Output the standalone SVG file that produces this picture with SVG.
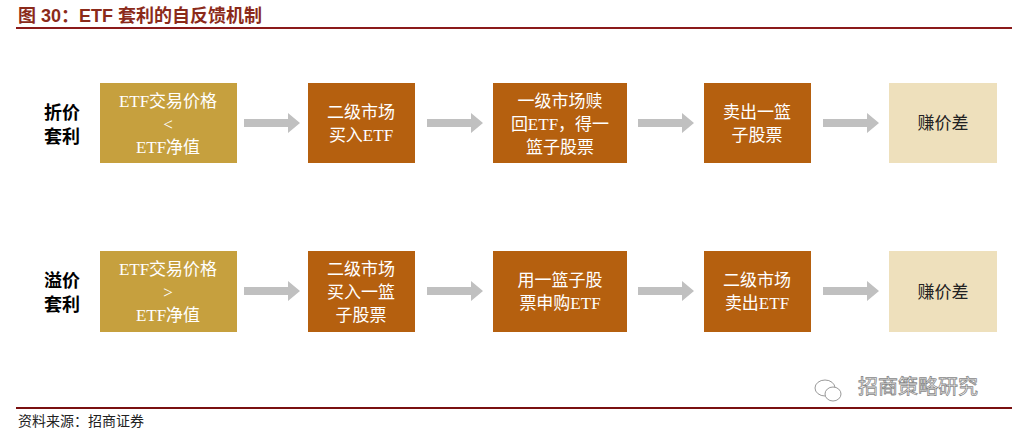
<svg xmlns="http://www.w3.org/2000/svg" width="1028" height="436" viewBox="0 0 1028 436">
<style>
text{font-family:"Liberation Serif","Noto Sans CJK SC",serif;font-size:17px;text-anchor:middle;fill:#fff}
.g{fill:#C6A03E}.o{fill:#B5600F}.b{fill:#EEE0BC}
.lab{fill:#000;font-weight:bold;font-size:18px}
.dk{fill:#222}
</style>
<defs><polygon id="ar" points="0,-4 44,-4 44,-10 56,0 44,10 44,4 0,4" fill="#C0C0C0"/></defs>
<rect width="1028" height="436" fill="#fff"/>
<text x="18" y="22" style="text-anchor:start;font-family:'Liberation Sans','Noto Sans CJK SC',sans-serif;font-weight:bold;font-size:18px;fill:#8B2A1A">图 30：ETF 套利的自反馈机制</text>
<rect x="16" y="27" width="996" height="2" fill="#8B1A1A"/>
<rect x="16" y="407" width="996" height="2" fill="#7A1010"/>
<text x="18" y="426" style="text-anchor:start;font-family:'Liberation Sans','Noto Sans CJK SC',sans-serif;font-size:14px;fill:#222">资料来源：招商证券</text>
<text x="918" y="394" style="font-family:'Noto Sans CJK SC',sans-serif;font-size:20px;fill:#fff;stroke:#888;stroke-width:0.8">招商策略研究</text>
<g fill="#fff" stroke="#999"><ellipse cx="825" cy="388" rx="10" ry="8"/><ellipse cx="833" cy="394" rx="8" ry="7"/></g>
<g id="row1">
<text class="lab" x="62" y="119">折价</text><text class="lab" x="62" y="143">套利</text>
<g id="n11"><rect class="g" x="100" y="83" width="137" height="80"/><text x="168" y="107">ETF交易价格</text><text x="168" y="130">&lt;</text><text x="168" y="153">ETF净值</text></g>
<g id="n12"><rect class="o" x="308" y="83" width="107" height="80"/><text x="361" y="118">二级市场</text><text x="361" y="141">买入ETF</text></g>
<g id="n13"><rect class="o" x="493" y="83" width="134" height="80"/><text x="560" y="107">一级市场赎</text><text x="560" y="130">回ETF，得一</text><text x="560" y="153">篮子股票</text></g>
<g id="n14"><rect class="o" x="704" y="83" width="107" height="80"/><text x="757" y="118">卖出一篮</text><text x="757" y="141">子股票</text></g>
<g id="n15"><rect class="b" x="889" y="83" width="108" height="80"/><text class="dk" x="943" y="129">赚价差</text></g>
</g>
<g id="row2">
<text class="lab" x="62" y="287">溢价</text><text class="lab" x="62" y="311">套利</text>
<g id="n21"><rect class="g" x="100" y="251" width="137" height="81"/><text x="168" y="275">ETF交易价格</text><text x="168" y="298">&gt;</text><text x="168" y="321">ETF净值</text></g>
<g id="n22"><rect class="o" x="308" y="251" width="107" height="81"/><text x="361" y="275">二级市场</text><text x="361" y="298">买入一篮</text><text x="361" y="321">子股票</text></g>
<g id="n23"><rect class="o" x="493" y="251" width="134" height="81"/><text x="560" y="286">用一篮子股</text><text x="560" y="309">票申购ETF</text></g>
<g id="n24"><rect class="o" x="704" y="251" width="107" height="81"/><text x="757" y="286">二级市场</text><text x="757" y="309">卖出ETF</text></g>
<g id="n25"><rect class="b" x="889" y="251" width="108" height="81"/><text class="dk" x="943" y="298">赚价差</text></g>
</g>
<g id="connectors">
<use href="#ar" x="244" y="123"/><use href="#ar" x="427" y="123"/><use href="#ar" x="638" y="123"/><use href="#ar" x="823" y="123"/>
<use href="#ar" x="244" y="291"/><use href="#ar" x="427" y="291"/><use href="#ar" x="638" y="291"/><use href="#ar" x="823" y="291"/>
</g>
</svg>
